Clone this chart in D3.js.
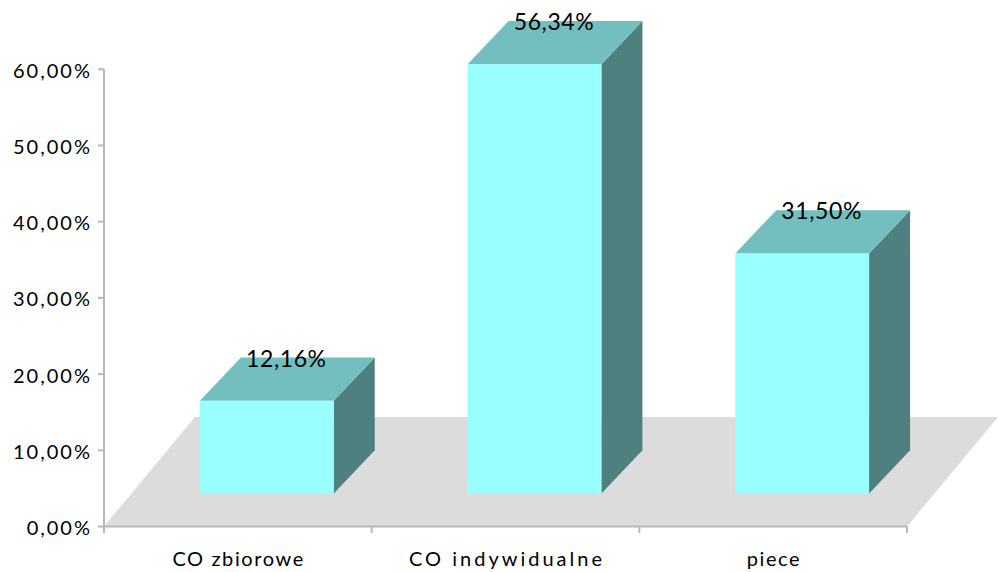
<!DOCTYPE html>
<html>
<head>
<meta charset="utf-8">
<script src="https://cdn.jsdelivr.net/npm/d3@7"></script>
<style>
  html, body { margin: 0; padding: 0; background: #fff; }
  svg { display: block; font-family: Lato, "Open Sans", sans-serif; }
</style>
</head>
<body>
<svg id="chart" width="998" height="572"></svg>
<script>
// Heating source shares
const categories = ["CO zbiorowe", "CO indywidualne", "piece"];
const shares = [12.16, 56.34, 31.50];
const valueLabels = ["12,16%", "56,34%", "31,50%"];
const tickValues = [0, 10, 20, 30, 40, 50, 60];
const tickLabels = ["0,00%", "10,00%", "20,00%", "30,00%", "40,00%", "50,00%", "60,00%"];

const svg = d3.select("#chart");

const x = d3.scaleBand().domain(categories).range([104, 907]);
const y = d3.scaleLinear().domain([0, 60]).range([526.5, 69.3]);

// oblique projection offsets
const floorDepth = { dx: 91, dy: 109.5 };
const frontShift = { dx: 29, dy: 33 };
const barDepth = { dx: 41, dy: 43.3 };

const colors = {
  floor: "#dcdcdc",
  front: "#99ffff",
  top: "#73bfbf",
  side: "#4d807f",
  axis: "#b8b8b8"
};

// category label tracking (wider spacing on the long label)
const categorySpacing = { "CO zbiorowe": 1.6, "CO indywidualne": 3.0, "piece": 1.6 };

// floor
const fx0 = x.range()[0], fx1 = x.range()[1], fy = y(0);
svg.append("polygon")
  .attr("points", [
    [fx0, fy], [fx1, fy],
    [fx1 + floorDepth.dx, fy - floorDepth.dy],
    [fx0 + floorDepth.dx, fy - floorDepth.dy]
  ].map(p => p.join(",")).join(" "))
  .attr("fill", colors.floor);

// value axis
const yAxis = svg.append("g");
yAxis.append("line")
  .attr("x1", 104).attr("x2", 104)
  .attr("y1", y(60)).attr("y2", y(0))
  .attr("stroke", colors.axis).attr("stroke-width", 2);
yAxis.selectAll("line.tick").data(tickValues).join("line")
  .attr("class", "tick")
  .attr("x1", 98).attr("x2", 104)
  .attr("y1", d => y(d)).attr("y2", d => y(d))
  .attr("stroke", colors.axis).attr("stroke-width", 2);
yAxis.selectAll("text").data(tickValues).join("text")
  .attr("x", 92)
  .attr("y", d => y(d) + 8.5)
  .attr("text-anchor", "end")
  .attr("font-size", 20)
  .attr("letter-spacing", 2)
  .attr("fill", "#000")
  .text((d, i) => tickLabels[i]);

// category axis
const xAxis = svg.append("g");
xAxis.append("line")
  .attr("x1", fx0).attr("x2", fx1)
  .attr("y1", fy).attr("y2", fy)
  .attr("stroke", colors.axis).attr("stroke-width", 2);
const tickXs = categories.map(c => x(c)).concat([fx1]);
xAxis.selectAll("line.tick").data(tickXs).join("line")
  .attr("class", "tick")
  .attr("x1", d => d).attr("x2", d => d)
  .attr("y1", fy).attr("y2", fy + 6.5)
  .attr("stroke", colors.axis).attr("stroke-width", 2);
xAxis.selectAll("text").data(categories).join("text")
  .attr("x", d => x(d) + x.bandwidth() / 2 + categorySpacing[d] / 2)
  .attr("y", 566)
  .attr("text-anchor", "middle")
  .attr("font-size", 20)
  .attr("letter-spacing", d => categorySpacing[d])
  .attr("fill", "#000")
  .text(d => d);

// bars
const bw = x.bandwidth() * 0.5;
const bars = categories.map((c, i) => {
  const xl = x(c) + x.bandwidth() * 0.25 + frontShift.dx;
  return {
    xl, xr: xl + bw,
    yt: y(shares[i]) - frontShift.dy,
    yb: y(0) - frontShift.dy,
    label: valueLabels[i]
  };
});

const pts = arr => arr.map(p => p.join(",")).join(" ");
const g = svg.append("g");
bars.forEach(b => {
  const bx = barDepth.dx, by = barDepth.dy;
  g.append("polygon")
    .attr("points", pts([[b.xr, b.yt], [b.xr + bx, b.yt - by], [b.xr + bx, b.yb - by], [b.xr, b.yb]]))
    .attr("fill", colors.side);
  g.append("polygon")
    .attr("points", pts([[b.xl, b.yt], [b.xr, b.yt], [b.xr + bx, b.yt - by], [b.xl + bx, b.yt - by]]))
    .attr("fill", colors.top);
  g.append("rect")
    .attr("x", b.xl).attr("y", b.yt)
    .attr("width", b.xr - b.xl).attr("height", b.yb - b.yt)
    .attr("fill", colors.front);
});

// value labels
svg.append("g").selectAll("text").data(bars).join("text")
  .attr("x", d => (d.xl + d.xr) / 2 + 19.5)
  .attr("y", d => d.yt - 34)
  .attr("text-anchor", "middle")
  .attr("font-size", 23)
  .attr("letter-spacing", 0.6)
  .attr("fill", "#000")
  .text(d => d.label);
</script>
</body>
</html>
